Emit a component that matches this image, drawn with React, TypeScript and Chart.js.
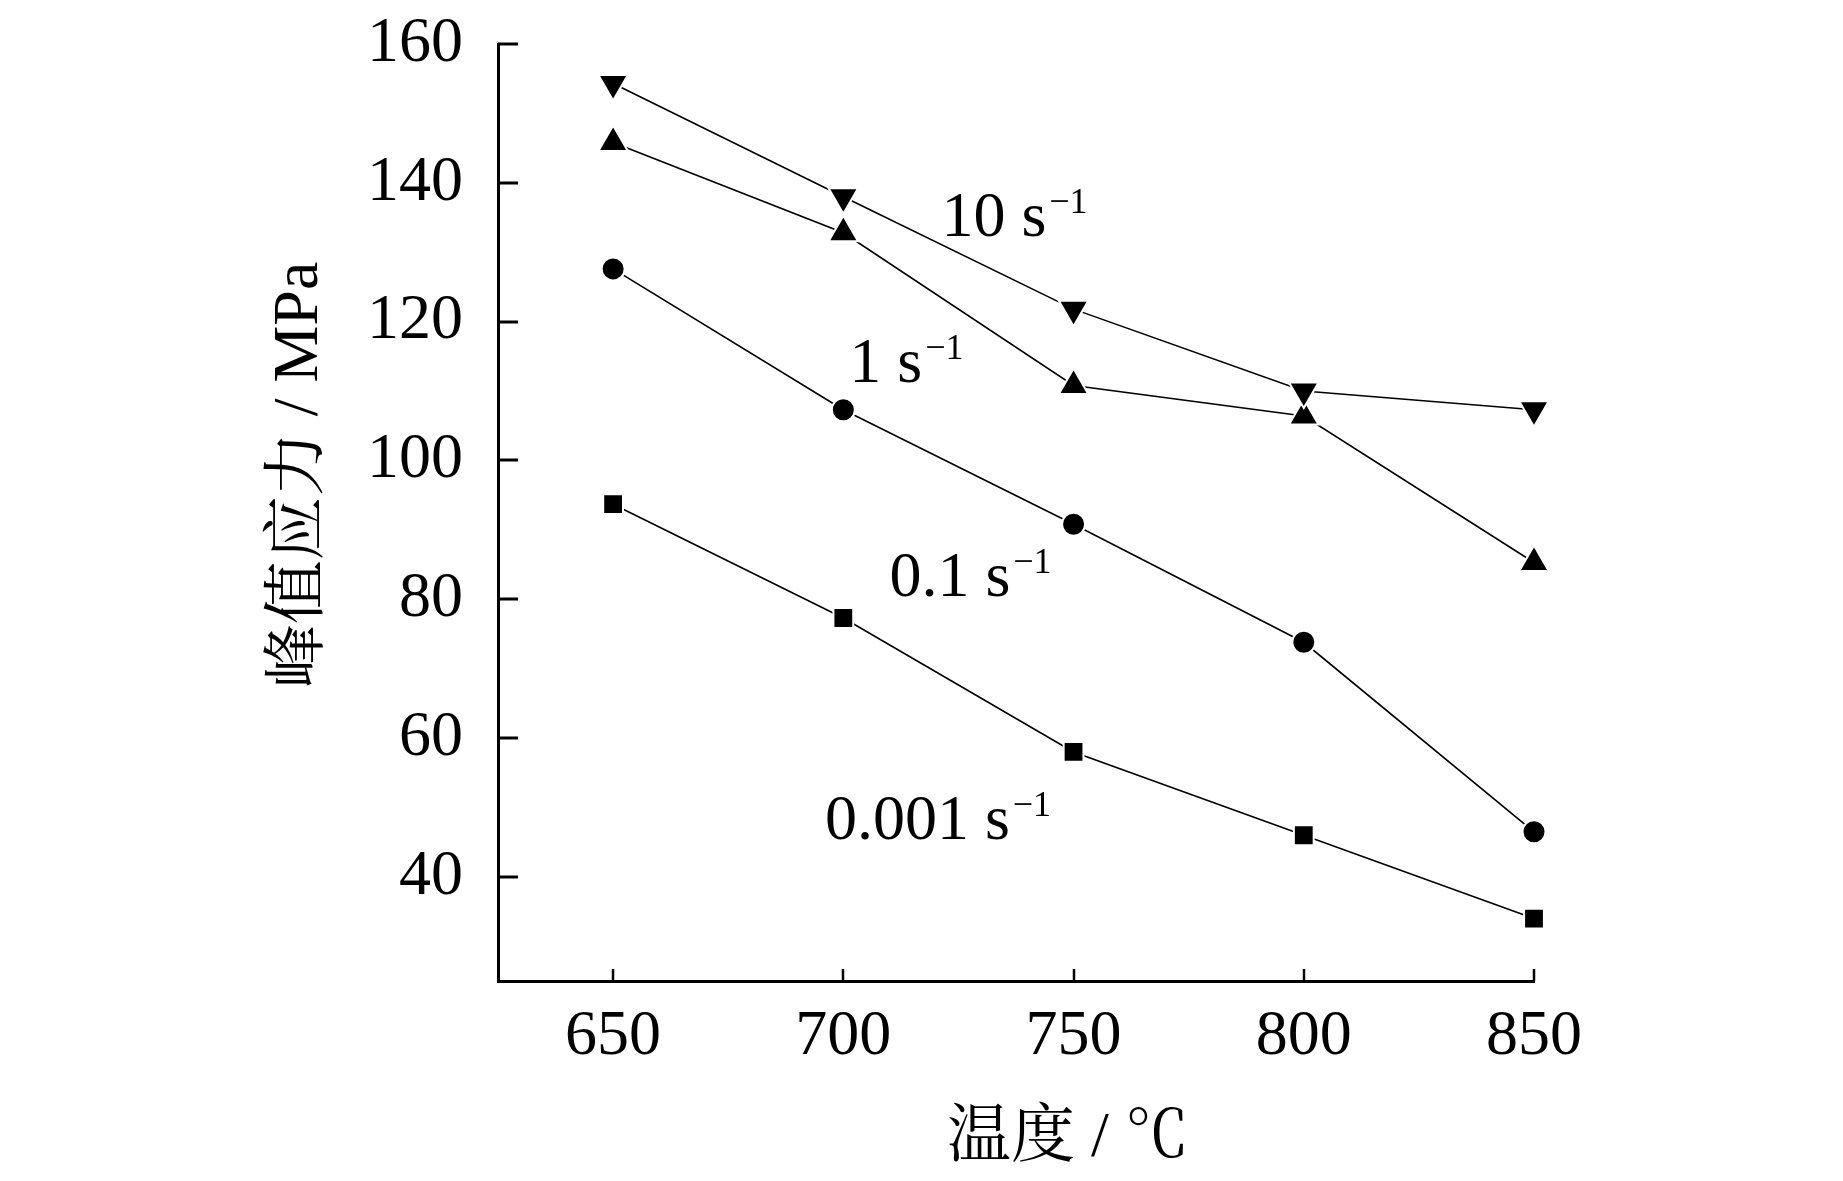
import React, { useEffect, useRef } from "react";
import { Chart, registerables } from "chart.js";

Chart.register(...registerables);

// ---- data ----
const temperatures = [650, 700, 750, 800, 850];
const stress10 = [154.3, 138.0, 121.8, 110.0, 107.3];
const stress1 = [145.8, 132.8, 110.8, 106.4, 85.3];
const stress01 = [127.6, 107.3, 90.8, 73.8, 46.5];
const stress0001 = [93.7, 77.3, 58.0, 46.0, 34.0];

const xTickValues = [650, 700, 750, 800, 850];
const yTickValues = [40, 60, 80, 100, 120, 140, 160];

const rateTexts = ["10 s", "1 s", "0.1 s", "0.001 s"];
const rateSup = "\u22121";
// label anchors (data units: temperature, stress at text baseline)
const rateLabelX = [721.3, 701.3, 710.0, 696.0];
const rateLabelY = [132.4, 111.3, 80.5, 45.5];

const xTitle = "温度 / ℃";
const yTitle = "峰值应力 / MPa";

const SERIF = '"Liberation Serif", "Times New Roman", serif';
const MIXED = '"Liberation Serif", "Noto Serif CJK SC", "Noto Sans CJK SC", serif';

const overlayPlugin = {
  id: "overlay",
  beforeDatasetsDraw(chart: any) {
    const { ctx, chartArea, scales } = chart;
    const xs = scales.x;
    const ys = scales.y;
    ctx.save();
    ctx.strokeStyle = "#000";
    ctx.lineWidth = 3;
    for (const v of yTickValues) {
      const py = Math.round(ys.getPixelForValue(v));
      ctx.beginPath();
      ctx.moveTo(chartArea.left, py);
      ctx.lineTo(chartArea.left + 20, py);
      ctx.stroke();
    }
    ctx.lineWidth = 2.5;
    for (const v of xTickValues) {
      const px = Math.round(xs.getPixelForValue(v));
      ctx.beginPath();
      ctx.moveTo(px, chartArea.bottom);
      ctx.lineTo(px, chartArea.bottom - 12);
      ctx.stroke();
    }
    ctx.restore();
  },
  afterDraw(chart: any) {
    const { ctx, scales } = chart;
    const xs = scales.x;
    const ys = scales.y;
    ctx.save();
    ctx.fillStyle = "#000";
    ctx.textAlign = "left";
    ctx.textBaseline = "alphabetic";
    rateTexts.forEach((t, i) => {
      const px = xs.getPixelForValue(rateLabelX[i]);
      const py = ys.getPixelForValue(rateLabelY[i]);
      ctx.font = `64px ${SERIF}`;
      ctx.fillText(t, px, py);
      const w = ctx.measureText(t).width;
      ctx.font = `36px ${SERIF}`;
      ctx.fillText(rateSup, px + w + 3, py - 23);
    });

    ctx.font = `64px ${MIXED}`;
    ctx.textAlign = "center";
    ctx.textBaseline = "middle";
    ctx.fillText(xTitle, 1068, 1139);

    ctx.translate(300, 475);
    ctx.rotate(-Math.PI / 2);
    ctx.fillText(yTitle, 0, 0);
    ctx.restore();
  },
};

function makeDataset(data: number[], style: string, radius: number, rotation = 0) {
  return {
    data: temperatures.map((t, i) => ({ x: t, y: data[i] })),
    borderColor: "#000",
    borderWidth: 1.6,
    backgroundColor: "#000",
    pointStyle: style,
    pointRadius: radius,
    pointRotation: rotation,
    pointBackgroundColor: "#000",
    pointBorderColor: "#fff",
    pointBorderWidth: 2,
    pointHoverRadius: radius,
    tension: 0,
    fill: false,
    clip: false as any,
  };
}

export default function App() {
  const canvasRef = useRef<HTMLCanvasElement | null>(null);

  useEffect(() => {
    if (!canvasRef.current) return;
    const chart = new Chart(canvasRef.current, {
      type: "line",
      data: {
        datasets: [
          makeDataset(stress10, "triangle", 17, 180),
          makeDataset(stress1, "triangle", 17, 0),
          makeDataset(stress01, "circle", 11.5),
          makeDataset(stress0001, "rect", 14),
        ] as any,
      },
      options: {
        animation: false,
        responsive: false,
        devicePixelRatio: 1,
        layout: { padding: { left: 0, right: 309, top: 44, bottom: 0 } },
        plugins: {
          legend: { display: false },
          tooltip: { enabled: false },
          title: { display: false },
        },
        scales: {
          x: {
            type: "linear",
            min: 625,
            max: 850,
            grid: { display: false, drawTicks: false },
            border: { display: true, color: "#000", width: 3 },
            ticks: {
              color: "#000",
              font: { family: SERIF, size: 64 },
              padding: 18,
              maxRotation: 0,
              autoSkip: false,
              callback: (v: any) => String(v),
            },
            afterBuildTicks: (scale: any) => {
              scale.ticks = xTickValues.map((v) => ({ value: v }));
            },
            afterFit: (scale: any) => {
              scale.height = 200;
              scale.paddingLeft = 0;
              scale.paddingRight = 0;
            },
          },
          y: {
            type: "linear",
            min: 25,
            max: 160,
            grid: { display: false, drawTicks: false },
            border: { display: true, color: "#000", width: 3 },
            ticks: {
              color: "#000",
              font: { family: SERIF, size: 64 },
              padding: 35,
              callback: (v: any) => String(v),
            },
            afterBuildTicks: (scale: any) => {
              scale.ticks = yTickValues.map((v) => ({ value: v }));
            },
            afterFit: (scale: any) => {
              scale.width = 498;
              scale.paddingTop = 0;
              scale.paddingBottom = 0;
            },
          },
        },
      } as any,
      plugins: [overlayPlugin],
    });
    return () => chart.destroy();
  }, []);

  return (
    <div style={{ position: "absolute", left: 0, top: 0, width: 1843, height: 1181, background: "#fff" }}>
      <canvas ref={canvasRef} width={1843} height={1181} style={{ display: "block" }} />
    </div>
  );
}
